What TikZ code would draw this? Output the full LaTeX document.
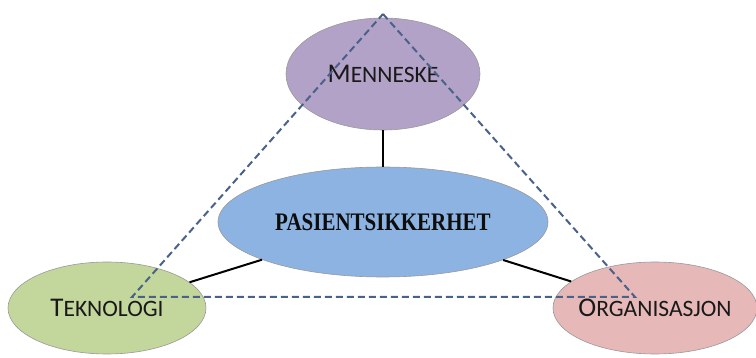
\documentclass[tikz,border=0pt]{standalone}
\usepackage{fontspec}
\usetikzlibrary{shapes.geometric}
\setmainfont{Carlito}
\newfontfamily\serifbold{Liberation Serif}
\begin{document}
\begin{tikzpicture}[x=1pt,y=-1pt,
  bubble/.style={ellipse, draw=black!40, line width=0.6pt, inner sep=0pt},
  lbl/.style={font=\fontsize{23.5}{26}\selectfont, text=black!90},
  link/.style={draw=black, line width=2pt},
  tri/.style={draw={rgb,255:red,74;green,98;blue,138}, line width=2pt, dash pattern=on 7pt off 4pt}]
\useasboundingbox (0,0) rectangle (756,358);
% the four bubbles; labels are set as centre labels so the text does not widen the shape
\node[bubble, fill={rgb,255:red,179;green,162;blue,199},
      minimum width=194pt, minimum height=112pt,
      label={[lbl]center:{\fontsize{27}{26}\selectfont M}ENNESKE}] (men) at (383,74) {};
\node[bubble, fill={rgb,255:red,141;green,179;blue,226},
      minimum width=330pt, minimum height=110pt,
      label={[font=\serifbold\bfseries\fontsize{21}{24}\selectfont, yscale=1.2, text=black!95]center:PASIENTSIKKERHET}] (pas) at (383,222) {};
\node[bubble, fill={rgb,255:red,195;green,214;blue,155},
      minimum width=198pt, minimum height=92pt,
      label={[lbl]center:{\fontsize{27}{26}\selectfont T}EKNOLOGI}] (tek) at (107,308) {};
\node[bubble, fill={rgb,255:red,230;green,185;blue,184},
      minimum width=204pt, minimum height=92pt,
      label={[lbl]center:{\fontsize{27}{26}\selectfont O}RGANISASJON}] (org) at (655,308) {};
% connectors between the bubbles
\draw[link] (men) -- (pas);
\draw[link] (tek) -- (pas);
\draw[link] (org) -- (pas);
% dashed triangle
\coordinate (apex) at (383,14);
\coordinate (bl) at (132,297);
\coordinate (br) at (635,297);
\draw[tri] (apex) -- (br) -- (bl) -- cycle;
\end{tikzpicture}
\end{document}
